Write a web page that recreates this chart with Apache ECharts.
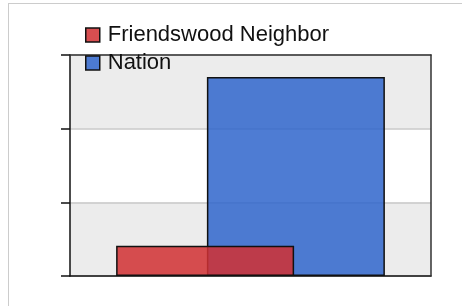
<!DOCTYPE html>
<html>
<head>
<meta charset="utf-8">
<script src="https://cdn.jsdelivr.net/npm/echarts@6/dist/echarts.min.js"></script>
<style>
  html, body { margin: 0; padding: 0; background: #fff; overflow: hidden; }
  .frame { position: absolute; left: 8px; top: 3px; width: 520px; height: 400px; border: 1px solid #cccccc; }
  #chart { position: absolute; left: 0; top: 0; width: 462px; height: 306px; }
</style>
</head>
<body>
<div class="frame"></div>
<div id="chart"></div>
<script>
  // data (axis has no labels, scale 0..3)
  const categories = [''];
  const friendswood = [0.41];
  const nation = [2.7];
  const seriesNames = ['Friendswood Neighbor', 'Nation'];

  const chart = echarts.init(document.getElementById('chart'));

  const edgeLine = { show: true, onZero: false, lineStyle: { color: '#333', width: 1.5 } };

  const option = {
    animation: false,
    legend: {
      data: seriesNames,
      orient: 'vertical',
      left: 85,
      top: 24,
      padding: 0,
      z: 10,
      itemWidth: 14,
      itemHeight: 14,
      itemGap: 6,
      icon: 'rect',
      itemStyle: { borderColor: '#111', borderWidth: 1.5 },
      textStyle: {
        fontFamily: 'Liberation Sans',
        fontSize: 22,
        lineHeight: 22,
        color: '#111',
        padding: [0, 0, 0, 3],
      },
    },
    grid: {
      left: 70,
      top: 55,
      right: 31,
      bottom: 30,
    },
    xAxis: [
      {
        type: 'category',
        data: categories,
        axisLine: { lineStyle: { color: '#111', width: 1.5 } },
        axisTick: { show: false },
        axisLabel: { show: false },
      },
      {
        type: 'category',
        data: categories,
        position: 'top',
        z: 5,
        axisLine: edgeLine,
        axisTick: { show: false },
        axisLabel: { show: false },
      },
    ],
    yAxis: [
      {
        type: 'value',
        min: 0,
        max: 3,
        interval: 1,
        axisLine: { show: true, lineStyle: { color: '#111', width: 1.5 } },
        axisTick: { show: true, length: 9, lineStyle: { color: '#111', width: 1.5 } },
        axisLabel: { show: false },
        splitLine: { lineStyle: { color: '#c8c8c8', width: 1.5 } },
        splitArea: { show: true, areaStyle: { color: ['#ececec', '#ffffff'] } },
      },
      {
        type: 'value',
        min: 0,
        max: 3,
        interval: 1,
        position: 'right',
        z: 5,
        axisLine: edgeLine,
        axisTick: { show: false },
        axisLabel: { show: false },
        splitLine: { show: false },
      },
    ],
    series: [
      {
        name: seriesNames[0],
        type: 'bar',
        data: friendswood,
        barWidth: 178,
        barGap: '-49%',
        z: 3,
        itemStyle: {
          color: 'rgba(208,49,51,0.86)',
          borderColor: '#111',
          borderWidth: 1.5,
        },
      },
      {
        name: seriesNames[1],
        type: 'bar',
        data: nation,
        barWidth: 178,
        barGap: '-49%',
        z: 2,
        itemStyle: {
          color: 'rgba(49,102,204,0.86)',
          borderColor: '#111',
          borderWidth: 1.5,
        },
      },
    ],
  };

  chart.setOption(option);
</script>
</body>
</html>
